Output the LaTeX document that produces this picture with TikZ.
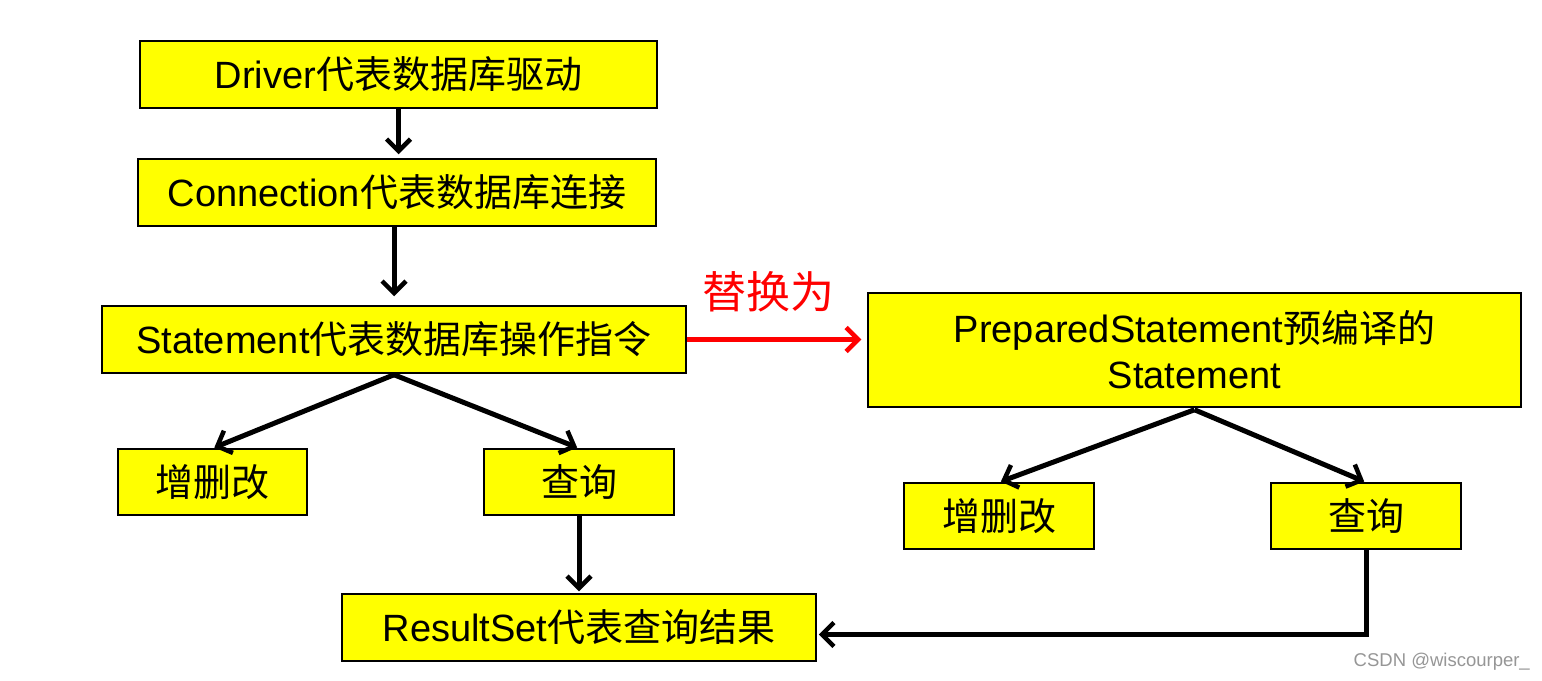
\documentclass[tikz,border=0pt]{standalone}
\usepackage{fontspec}
\setmainfont{Liberation Sans}
\newfontfamily\cjk{Noto Sans CJK SC}
\usetikzlibrary{arrows.meta}
\definecolor{boxyellow}{RGB}{255,255,0}
\definecolor{wmgray}{RGB}{150,150,150}
\begin{document}
\begin{tikzpicture}[x=1pt,y=-1pt,
  box/.style={draw=black,line width=1.5pt,fill=boxyellow,inner sep=0pt,
    font=\fontsize{38}{46}\selectfont,align=center},
  conn/.style={line width=5pt,-{Straight Barb[length=12pt,width=24pt,line width=4.5pt]}},
  redconn/.style={draw=red,line width=5pt,-{Straight Barb[length=12pt,width=24pt,line width=4.5pt]}}]
\useasboundingbox (0,0) rectangle (1542,680);
\fill[white] (0,0) rectangle (1542,680);
% boxes
\node[box,minimum width=517pt,minimum height=67pt] (dr) at (398.5,74.5) {Driver{\cjk 代表数据库驱动}};
\node[box,minimum width=518pt,minimum height=67pt] (cn) at (397,192.5) {Connection{\cjk 代表数据库连接}};
\node[box,minimum width=584pt,minimum height=67pt] (st) at (394,339.5) {Statement{\cjk 代表数据库操作指令}};
\node[box,minimum width=189pt,minimum height=66pt] (zl) at (212.5,482) {\cjk 增删改};
\node[box,minimum width=190pt,minimum height=66pt] (ql) at (579,482) {\cjk 查询};
\node[box,minimum width=474pt,minimum height=67pt] (rs) at (579,627.5) {ResultSet{\cjk 代表查询结果}};
\node[box,minimum width=653pt,minimum height=114pt] (ps) at (1194.5,350) {PreparedStatement{\cjk 预编译的}\\Statement};
\node[box,minimum width=190pt,minimum height=66pt] (zr) at (999,516) {\cjk 增删改};
\node[box,minimum width=190pt,minimum height=66pt] (qr) at (1366,516) {\cjk 查询};
% label
\node[text=red,font=\cjk\fontsize{44}{48}\selectfont,inner sep=0pt] (rep) at (768,292) {替换为};
% watermark
\node[text=wmgray,font=\fontsize{18.5}{20}\selectfont,inner sep=0pt,anchor=east] (wm) at (1530,662) {CSDN @wiscourper\_};
% connectors
\draw[conn,shorten >=4pt] (dr.south) -- (dr.south |- cn.north);
\draw[conn,shorten >=9pt] (cn.south -| st.north) -- (st.north);
\draw[conn,shorten >=2pt] ([yshift=-1pt]st.south) -- (zl.north);
\draw[conn,shorten >=2pt] ([yshift=-1pt]st.south) -- (ql.north);
\draw[conn,shorten >=2pt] (ql.south) -- (rs.north);
\draw[redconn,shorten >=6pt] (st.east) -- (st.east -| ps.west);
\draw[conn,shorten >=2pt] ([yshift=-2pt]ps.south) -- (zr.north);
\draw[conn,shorten >=2pt] ([yshift=-2pt]ps.south) -- (qr.north);
\draw[conn,shorten >=2pt] (qr.south) -- ([yshift=-7pt]qr.south |- rs.east) -- ([yshift=-7pt]rs.east);
\end{tikzpicture}
\end{document}
